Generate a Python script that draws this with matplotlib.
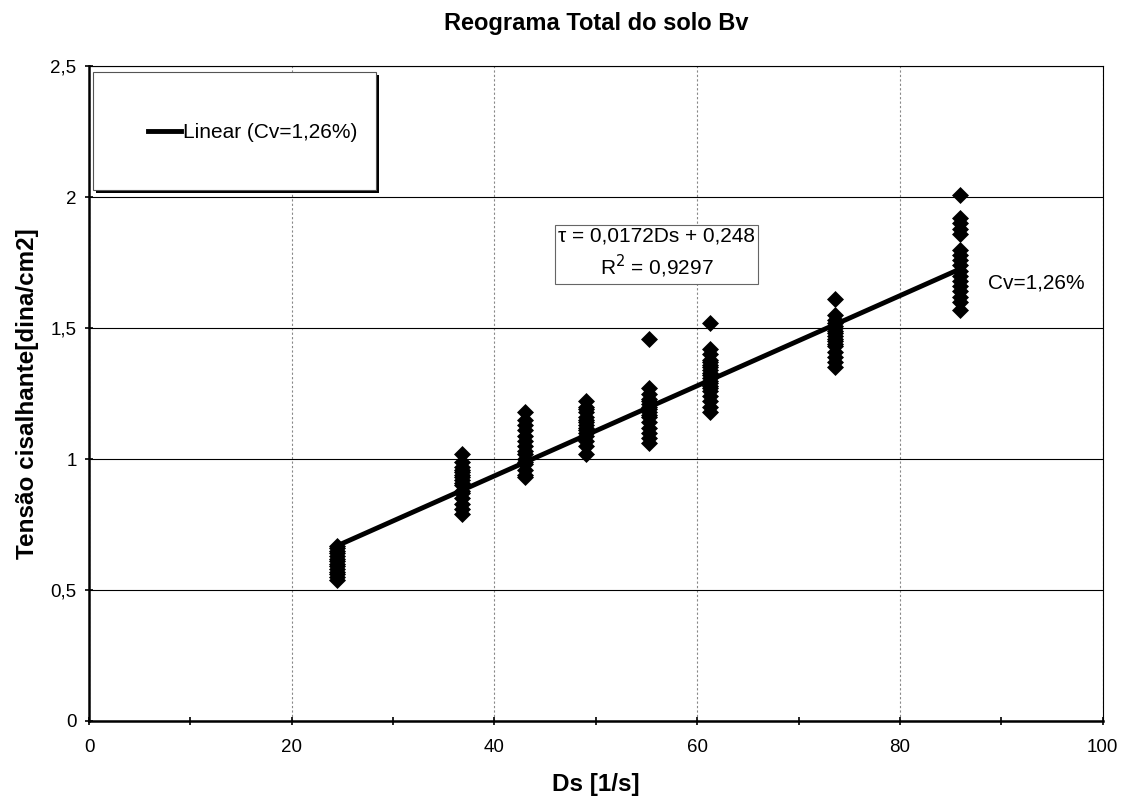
import numpy as np
import matplotlib.pyplot as plt
from matplotlib.patches import Rectangle
from matplotlib.ticker import MultipleLocator, FuncFormatter

plt.rcParams['font.family'] = ['Liberation Sans', 'DejaVu Sans']

# shear rates (one cluster of readings for each)
ds_levels = [24.5, 36.8, 43.0, 49.0, 55.2, 61.3, 73.6, 85.9]

# shear stress readings, per shear rate
tau_readings = [
    [0.54, 0.55, 0.56, 0.57, 0.58, 0.59, 0.60, 0.61, 0.62, 0.63, 0.64, 0.65, 0.66, 0.67],
    [0.79, 0.81, 0.83, 0.85, 0.87, 0.88, 0.90, 0.91, 0.92, 0.93, 0.94, 0.95, 0.96, 0.97, 0.99, 1.02],
    [0.93, 0.94, 0.96, 0.98, 0.99, 1.00, 1.02, 1.03, 1.05, 1.07, 1.09, 1.11, 1.13, 1.15, 1.18],
    [1.02, 1.05, 1.07, 1.09, 1.10, 1.11, 1.12, 1.13, 1.14, 1.15, 1.16, 1.18, 1.19, 1.20, 1.22],
    [1.06, 1.08, 1.10, 1.12, 1.14, 1.16, 1.17, 1.18, 1.19, 1.20, 1.21, 1.22, 1.23, 1.25, 1.27, 1.46],
    [1.18, 1.20, 1.22, 1.24, 1.26, 1.27, 1.28, 1.29, 1.30, 1.31, 1.32, 1.33, 1.34, 1.35, 1.36, 1.37, 1.38, 1.40, 1.42, 1.52],
    [1.35, 1.37, 1.39, 1.41, 1.43, 1.44, 1.45, 1.46, 1.47, 1.48, 1.49, 1.50, 1.51, 1.52, 1.53, 1.55, 1.61],
    [1.57, 1.60, 1.62, 1.64, 1.66, 1.68, 1.70, 1.72, 1.74, 1.76, 1.78, 1.80, 1.86, 1.88, 1.90, 1.92, 2.01],
]

slope = 0.0172
intercept = 0.248
r2 = 0.9297

fig = plt.figure(figsize=(11.31, 7.98), dpi=100)
ax = fig.add_axes([0.0787, 0.0965, 0.8963, 0.8205])

for x, ys in zip(ds_levels, tau_readings):
    ax.scatter([x] * len(ys), ys, marker='D', s=75, color='black', zorder=3, linewidths=0)

xfit = np.array([ds_levels[0], ds_levels[-1]])
line, = ax.plot(xfit, slope * xfit + intercept, color='black', lw=3.5, zorder=4)

ax.set_xlim(0, 100)
ax.set_ylim(0, 2.5)
ax.xaxis.set_major_locator(MultipleLocator(20))
ax.xaxis.set_minor_locator(MultipleLocator(10))
ax.yaxis.set_major_locator(MultipleLocator(0.5))
ax.yaxis.set_major_formatter(FuncFormatter(lambda v, p: ('%g' % v).replace('.', ',')))

ax.grid(axis='y', color='black', lw=0.8)
ax.grid(axis='x', color='#888888', lw=0.8, ls=(0, (2, 2)))
ax.set_axisbelow(True)

for s in ['top', 'right']:
    ax.spines[s].set_linewidth(0.8)
for s in ['left', 'bottom']:
    ax.spines[s].set_linewidth(1.8)
ax.tick_params(axis='both', which='both', direction='inout', length=6, width=1.2, labelsize=13.5, pad=6)
ax.tick_params(axis='x', pad=10)

ax.set_title('Reograma Total do solo Bv', fontsize=17, fontweight='bold', pad=26)
ax.set_xlabel('Ds [1/s]', fontsize=17.5, fontweight='bold', labelpad=12)
ax.set_ylabel('Tensão cisalhante[dina/cm2]', fontsize=17.5, fontweight='bold', labelpad=8)

# legend box with a dark shadow on the right and bottom
box_x, box_y, box_w, box_h = 0.004, 0.811, 0.279, 0.180
ax.add_patch(Rectangle((box_x + 0.003, box_y - 0.005), box_w, box_h, transform=ax.transAxes,
                       facecolor='black', edgecolor='none', zorder=5))
ax.add_patch(Rectangle((box_x, box_y), box_w, box_h, transform=ax.transAxes,
                       facecolor='white', edgecolor='#555555', lw=0.8, zorder=6))
leg = ax.legend([line], ['Linear (Cv=1,26%)'], loc='center left',
                bbox_to_anchor=(0.058, 0.899), fontsize=15, frameon=False,
                borderpad=0, handlelength=1.6, handletextpad=0.1, borderaxespad=0)
leg.set_zorder(7)
for h in leg.legend_handles:
    h.set_linewidth(3.5)

ax.text(0.560, 0.714, 'τ = 0,0172Ds + 0,248\nR$^2$ = 0,9297', transform=ax.transAxes,
        ha='center', va='center', fontsize=15, linespacing=1.35,
        bbox=dict(boxstyle='square,pad=0.15', facecolor='white', edgecolor='#666666', lw=0.8))

ax.text(88.7, 1.672, 'Cv=1,26%', fontsize=15, va='center', ha='left')

fig.savefig('out.png', dpi=100)
